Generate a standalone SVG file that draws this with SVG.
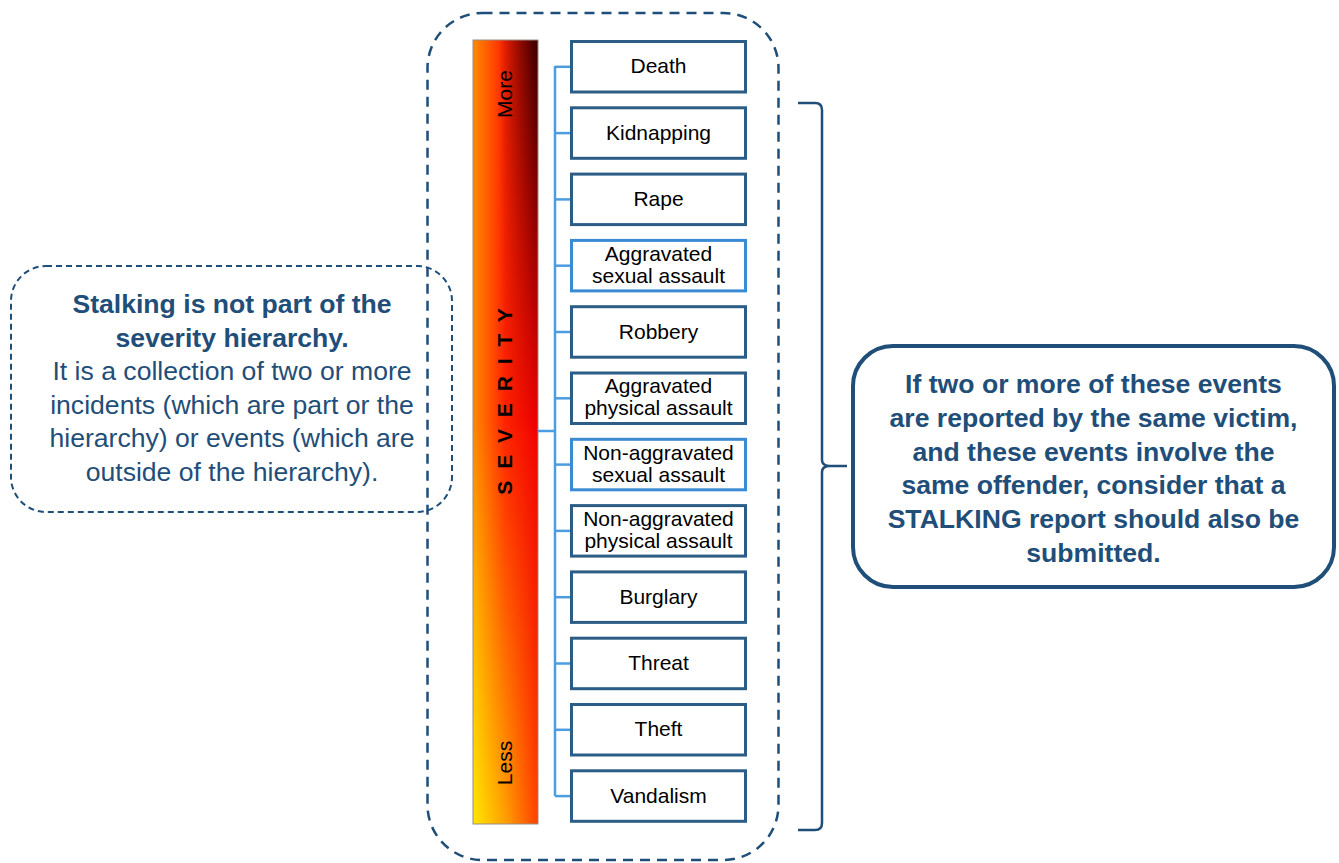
<svg xmlns="http://www.w3.org/2000/svg" width="1339" height="863" viewBox="0 0 1339 863">
<style>
.box{fill:#fff;stroke:#2b5d87;stroke-width:3}
.box.lt{stroke:#3a8bd4}
.lbl{font-family:"Liberation Sans",Arial,sans-serif;font-size:21px;fill:#000;text-anchor:middle}
.conn{stroke:#4a9de0;fill:none;stroke-width:2.5}
.note{font-family:"Liberation Sans",Arial,sans-serif;font-size:26.6px;fill:#1f4e79;text-anchor:middle}
.b{font-weight:bold}
.dash{fill:none;stroke:#1f4e79}
</style>
<defs>
<linearGradient id="gMid" x1="0" y1="0" x2="1" y2="0">
<stop offset="0" stop-color="#ff8a00"/>
<stop offset="0.5" stop-color="#ff2200"/>
<stop offset="1" stop-color="#f00000"/>
</linearGradient>
<linearGradient id="gBot" x1="0" y1="0" x2="1" y2="0">
<stop offset="0" stop-color="#ffe800"/>
<stop offset="0.5" stop-color="#ffa000"/>
<stop offset="1" stop-color="#ff4000"/>
</linearGradient>
<linearGradient id="gDark" x1="0" y1="0" x2="1" y2="0">
<stop offset="0" stop-color="#000" stop-opacity="0"/>
<stop offset="0.4" stop-color="#000" stop-opacity="0"/>
<stop offset="1" stop-color="#000" stop-opacity="0.78"/>
</linearGradient>
<linearGradient id="gMaskBot" x1="0" y1="0" x2="0" y2="1">
<stop offset="0" stop-color="#000"/>
<stop offset="0.48" stop-color="#000"/>
<stop offset="1" stop-color="#fff"/>
</linearGradient>
<linearGradient id="gMaskTop" x1="0" y1="0" x2="0" y2="1">
<stop offset="0" stop-color="#fff"/>
<stop offset="0.5" stop-color="#000"/>
<stop offset="1" stop-color="#000"/>
</linearGradient>
<mask id="mBot" maskUnits="userSpaceOnUse" x="473" y="40" width="65" height="784">
<rect x="473" y="40" width="65" height="784" fill="url(#gMaskBot)"/>
</mask>
<mask id="mTop" maskUnits="userSpaceOnUse" x="473" y="40" width="65" height="784">
<rect x="473" y="40" width="65" height="784" fill="url(#gMaskTop)"/>
</mask>
</defs>
<rect width="1339" height="863" fill="#fff"/>

<g id="outer-frame">
<rect class="dash" x="427.5" y="13" width="351" height="847" rx="55" stroke-width="2.5" stroke-dasharray="10 7"/>
</g>

<g id="severity-bar">
<rect x="473" y="40" width="65" height="784" fill="url(#gMid)"/>
<rect x="473" y="40" width="65" height="784" fill="url(#gBot)" mask="url(#mBot)"/>
<rect x="473" y="40" width="65" height="784" fill="url(#gDark)" mask="url(#mTop)"/>
<rect x="473" y="40" width="65" height="784" fill="none" stroke="#9a8a80" stroke-width="1"/>
<text class="lbl" transform="translate(512,94) rotate(-90)">More</text>
<text class="lbl b" transform="translate(512,400) rotate(-90)" letter-spacing="3">S E V E R I T Y</text>
<text class="lbl" transform="translate(512,763) rotate(-90)">Less</text>
</g>

<g id="connectors">
<line class="conn" x1="555" y1="66" x2="555" y2="796"/>
<line class="conn" x1="538" y1="431" x2="555" y2="431" stroke-width="3"/>
<line class="conn" x1="555" y1="66.8" x2="571" y2="66.8"/>
<line class="conn" x1="555" y1="133.1" x2="571" y2="133.1"/>
<line class="conn" x1="555" y1="199.4" x2="571" y2="199.4"/>
<line class="conn" x1="555" y1="265.7" x2="571" y2="265.7"/>
<line class="conn" x1="555" y1="332" x2="571" y2="332"/>
<line class="conn" x1="555" y1="398.3" x2="571" y2="398.3"/>
<line class="conn" x1="555" y1="464.6" x2="571" y2="464.6"/>
<line class="conn" x1="555" y1="530.9" x2="571" y2="530.9"/>
<line class="conn" x1="555" y1="597.2" x2="571" y2="597.2"/>
<line class="conn" x1="555" y1="663.5" x2="571" y2="663.5"/>
<line class="conn" x1="555" y1="729.8" x2="571" y2="729.8"/>
<line class="conn" x1="555" y1="796.1" x2="571" y2="796.1"/>
<path d="M798 103 L815 103 Q822 103 822 110 L822 460 Q822 466 830 466 L847 466 M830 466 Q822 466 822 472 L822 823 Q822 830 815 830 L798 830" fill="none" stroke="#1f4e79" stroke-width="2.5"/>
</g>

<g id="n-death"><rect class="box" x="571.5" y="41.5" width="174" height="50.5"/><text class="lbl" x="658.5" y="73.3">Death</text></g>
<g id="n-kidnapping"><rect class="box" x="571.5" y="107.8" width="174" height="50.5"/><text class="lbl" x="658.5" y="139.6">Kidnapping</text></g>
<g id="n-rape"><rect class="box" x="571.5" y="174.1" width="174" height="50.5"/><text class="lbl" x="658.5" y="205.9">Rape</text></g>
<g id="n-agg-sexual"><rect class="box lt" x="571.5" y="240.4" width="174" height="50.5"/><text class="lbl" x="658.5" y="260.7">Aggravated</text><text class="lbl" x="658.5" y="282.7">sexual assault</text></g>
<g id="n-robbery"><rect class="box" x="571.5" y="306.7" width="174" height="50.5"/><text class="lbl" x="658.5" y="338.5">Robbery</text></g>
<g id="n-agg-physical"><rect class="box" x="571.5" y="373" width="174" height="50.5"/><text class="lbl" x="658.5" y="393.3">Aggravated</text><text class="lbl" x="658.5" y="415.3">physical assault</text></g>
<g id="n-nonagg-sexual"><rect class="box lt" x="571.5" y="439.3" width="174" height="50.5"/><text class="lbl" x="658.5" y="459.6">Non-aggravated</text><text class="lbl" x="658.5" y="481.6">sexual assault</text></g>
<g id="n-nonagg-physical"><rect class="box" x="571.5" y="505.6" width="174" height="50.5"/><text class="lbl" x="658.5" y="525.9">Non-aggravated</text><text class="lbl" x="658.5" y="547.9">physical assault</text></g>
<g id="n-burglary"><rect class="box" x="571.5" y="571.9" width="174" height="50.5"/><text class="lbl" x="658.5" y="603.7">Burglary</text></g>
<g id="n-threat"><rect class="box" x="571.5" y="638.2" width="174" height="50.5"/><text class="lbl" x="658.5" y="670">Threat</text></g>
<g id="n-theft"><rect class="box" x="571.5" y="704.5" width="174" height="50.5"/><text class="lbl" x="658.5" y="736.3">Theft</text></g>
<g id="n-vandalism"><rect class="box" x="571.5" y="770.8" width="174" height="50.5"/><text class="lbl" x="658.5" y="802.6">Vandalism</text></g>

<g id="n-stalking-note">
<rect class="dash" x="11" y="266" width="441" height="246" rx="35" stroke-width="2" stroke-dasharray="6 4"/>
<text class="note b" x="232" y="313">Stalking is not part of the</text>
<text class="note b" x="232" y="347">severity hierarchy.</text>
<text class="note" x="232" y="380">It is a collection of two or more</text>
<text class="note" x="232" y="414">incidents (which are part or the</text>
<text class="note" x="232" y="447">hierarchy) or events (which are</text>
<text class="note" x="232" y="481">outside of the hierarchy).</text>
</g>

<g id="n-stalking-report">
<rect x="853" y="346" width="481" height="241" rx="40" fill="#fff" stroke="#1f4e79" stroke-width="4"/>
<text class="note b" x="1093.5" y="393">If two or more of these events</text>
<text class="note b" x="1093.5" y="427">are reported by the same victim,</text>
<text class="note b" x="1093.5" y="460.5">and these events involve the</text>
<text class="note b" x="1093.5" y="494">same offender, consider that a</text>
<text class="note b" x="1093.5" y="528">STALKING report should also be</text>
<text class="note b" x="1093.5" y="561.5">submitted.</text>
</g>
</svg>
